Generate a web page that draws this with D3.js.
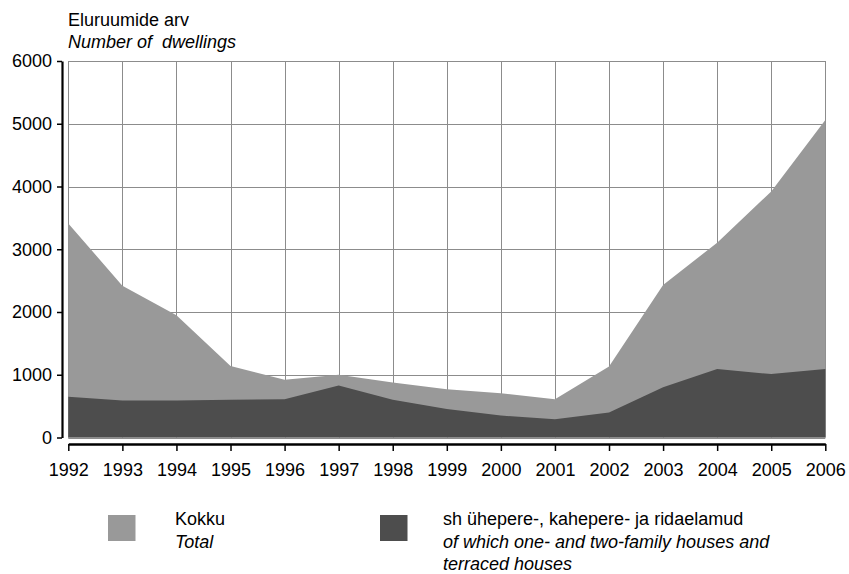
<!DOCTYPE html>
<html>
<head>
<meta charset="utf-8">
<script src="https://cdn.jsdelivr.net/npm/d3@7"></script>
<style>
  html, body { margin: 0; padding: 0; background: #fff; }
  svg { display: block; font-family: Arial, "Liberation Sans", sans-serif; }
</style>
</head>
<body>
<svg id="chart" width="849" height="574"></svg>
<script>
// Dwellings completed, 1992–2006
const years = [1992, 1993, 1994, 1995, 1996, 1997, 1998, 1999, 2000, 2001, 2002, 2003, 2004, 2005, 2006];
const totalDwellings = [3410, 2420, 1950, 1140, 920, 1000, 875, 770, 705, 610, 1130, 2430, 3105, 3920, 5060];
const familyHouses = [650, 590, 590, 600, 610, 830, 600, 455, 350, 290, 400, 800, 1090, 1010, 1090];
const yTicks = [0, 1000, 2000, 3000, 4000, 5000, 6000];

const titleLines = ["Eluruumide arv", "Number of  dwellings"];
const legendItems = [
  { lines: ["Kokku", "Total"], color: "#999999" },
  { lines: ["sh ühepere-, kahepere- ja ridaelamud", "of which one- and two-family houses and", "terraced houses"], color: "#4d4d4d" }
];

const svg = d3.select("#chart");
const FONT = 18;

const x = d3.scaleLinear().domain([1992, 2006]).range([68.3, 825.3]);
const y = d3.scaleLinear().domain([0, 6000]).range([437.5, 61]);

// grid
const grid = svg.append("g").attr("stroke", "#8c8c8c").attr("stroke-width", 1);
grid.selectAll("line.v").data(years).join("line")
  .attr("x1", d => Math.round(x(d)) + 0.5).attr("x2", d => Math.round(x(d)) + 0.5)
  .attr("y1", y(6000)).attr("y2", y(0));
grid.selectAll("line.h").data(yTicks).join("line")
  .attr("x1", x(1992)).attr("x2", x(2006))
  .attr("y1", d => Math.round(y(d)) + 0.5).attr("y2", d => Math.round(y(d)) + 0.5);

// areas
const series = [
  { values: totalDwellings, color: "#999999" },
  { values: familyHouses, color: "#4d4d4d" }
];
const area = d3.area()
  .x((d, i) => x(years[i]))
  .y0(y(0))
  .y1(d => y(d));
svg.append("g").selectAll("path").data(series).join("path")
  .attr("d", d => area(d.values))
  .attr("fill", d => d.color);

// y axis
const yAxis = svg.append("g")
  .attr("transform", "translate(62,0)")
  .call(d3.axisLeft(y).tickValues(yTicks).tickSize(5).tickSizeOuter(0).tickPadding(5).tickFormat(d3.format("d")));
yAxis.select(".domain").attr("stroke", "#000").attr("stroke-width", 2.2);
yAxis.selectAll(".tick line").attr("stroke", "#000").attr("stroke-width", 1.5);
yAxis.selectAll("text").attr("font-size", FONT).attr("fill", "#000").attr("font-family", "Arial, 'Liberation Sans', sans-serif");

// x axis
const xAxis = svg.append("g")
  .attr("transform", "translate(0,444)")
  .call(d3.axisBottom(x).tickValues(years).tickSize(7).tickSizeOuter(0).tickPadding(12.5).tickFormat(d3.format("d")));
xAxis.select(".domain").attr("stroke", "#000").attr("stroke-width", 2.6);
xAxis.selectAll(".tick line").attr("stroke", "#000").attr("stroke-width", 1.5);
xAxis.selectAll("text").attr("font-size", FONT).attr("fill", "#000").attr("font-family", "Arial, 'Liberation Sans', sans-serif");

// title
svg.append("text").attr("x", 68).attr("y", 26).attr("font-size", FONT).text(titleLines[0]);
svg.append("text").attr("x", 68).attr("y", 48.3).attr("font-size", FONT)
  .attr("font-style", "italic").style("white-space", "pre").text(titleLines[1]);

// legend
const legendPos = [{ sx: 108, tx: 175 }, { sx: 380, tx: 443 }];
legendItems.forEach((item, i) => {
  const p = legendPos[i];
  svg.append("rect").attr("x", p.sx).attr("y", 515).attr("width", 27.5).attr("height", 26).attr("fill", item.color);
  item.lines.forEach((ln, j) => {
    svg.append("text").attr("x", p.tx).attr("y", 525 + j * 22.5).attr("font-size", FONT)
      .attr("font-style", j > 0 ? "italic" : "normal").text(ln);
  });
});
</script>
</body>
</html>
